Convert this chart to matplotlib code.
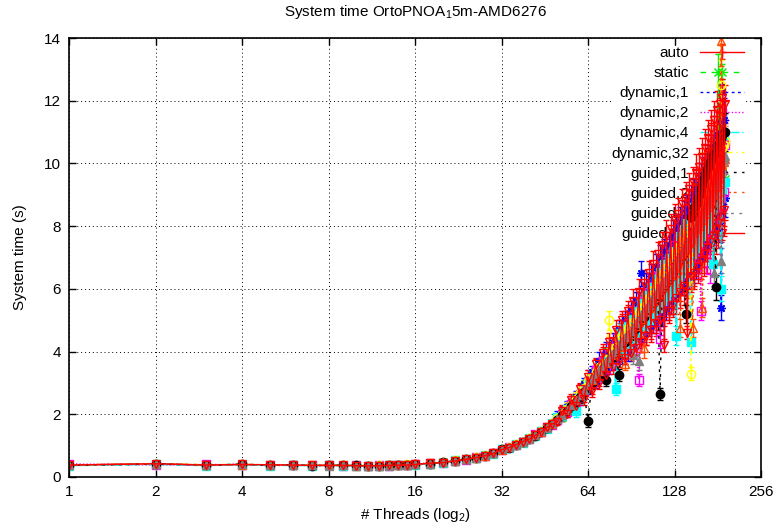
import matplotlib
matplotlib.use("Agg")
from matplotlib import pyplot as plt

plt.rcParams['font.family'] = ['Liberation Sans', 'DejaVu Sans']
plt.rcParams['mathtext.fontset'] = 'custom'
plt.rcParams['mathtext.rm'] = 'Liberation Sans'
plt.rcParams['mathtext.it'] = 'Liberation Sans:italic'

# thread counts: every count up to 16, then every second one up to 192
threads = list(range(1, 17)) + list(range(18, 193, 2))
x_ticks = [1, 2, 4, 8, 16, 32, 64, 128, 256]

schedules = ["auto", "static", "dynamic,1", "dynamic,2", "dynamic,4",
             "dynamic,32", "guided,1", "guided,2", "guided,4", "guided,32"]

# mean system time (s) per thread count
sys_auto = [
    0.38, 0.43, 0.38, 0.40, 0.38, 0.37, 0.37, 0.38, 0.37, 0.36, 0.35, 0.36, 0.37, 0.38, 0.39, 0.41,
    0.44, 0.47, 0.52, 0.57, 0.61, 0.69, 0.77, 0.87, 0.96, 1.05, 1.10, 1.24, 1.35, 1.43, 1.60, 1.72,
    1.80, 2.05, 2.08, 2.38, 2.35, 2.75, 2.60, 3.20, 2.85, 3.55, 3.10, 3.85, 3.35, 4.15, 3.60, 4.45,
    3.70, 4.90, 3.80, 5.20, 3.90, 5.40, 4.10, 5.70, 4.30, 5.90, 4.50, 6.20, 4.60, 6.40, 4.80, 6.70,
    5.00, 7.00, 5.10, 7.20, 5.20, 7.50, 5.40, 7.80, 5.60, 8.00, 5.80, 8.20, 5.90, 8.50, 6.10, 8.70,
    6.30, 9.00, 6.40, 9.30, 6.60, 9.50, 6.70, 9.80, 6.90, 10.1, 7.00, 10.4, 7.20, 10.7, 7.40, 10.9,
    7.60, 11.2, 7.80, 11.5, 8.00, 11.7, 8.20, 11.4]
sys_static = [
    0.37, 0.41, 0.39, 0.40, 0.37, 0.38, 0.38, 0.36, 0.37, 0.37, 0.36, 0.35, 0.36, 0.38, 0.38, 0.40,
    0.42, 0.48, 0.50, 0.55, 0.63, 0.67, 0.75, 0.89, 0.94, 1.02, 1.14, 1.21, 1.31, 1.47, 1.55, 1.69,
    1.86, 1.92, 2.18, 2.22, 2.52, 2.55, 2.88, 2.90, 3.25, 3.20, 3.55, 3.45, 3.80, 3.70, 4.05, 3.95,
    4.50, 4.05, 4.75, 4.20, 4.95, 4.40, 5.20, 4.65, 5.45, 4.90, 5.75, 5.10, 5.90, 5.30, 6.20, 5.50,
    6.40, 5.60, 6.60, 5.80, 6.80, 6.10, 7.00, 6.30, 7.25, 6.50, 7.50, 6.70, 7.70, 6.90, 7.90, 7.10,
    8.10, 7.20, 8.30, 7.40, 8.50, 7.60, 8.70, 7.80, 8.90, 8.00, 9.10, 8.20, 9.30, 8.40, 9.50, 8.60,
    9.90, 8.80, 12.9, 9.10, 10.5, 9.30, 10.8, 9.50]
sys_dyn1 = [
    0.38, 0.42, 0.37, 0.41, 0.38, 0.39, 0.37, 0.37, 0.38, 0.36, 0.36, 0.36, 0.38, 0.37, 0.39, 0.40,
    0.43, 0.46, 0.51, 0.57, 0.62, 0.68, 0.78, 0.87, 0.96, 1.04, 1.11, 1.25, 1.32, 1.46, 1.58, 1.71,
    1.90, 1.95, 2.22, 2.20, 2.55, 2.50, 2.95, 2.85, 3.35, 3.05, 3.70, 3.30, 4.00, 3.50, 4.30, 3.75,
    4.70, 3.90, 5.00, 4.00, 5.30, 4.20, 5.60, 4.40, 6.50, 4.60, 6.10, 4.80, 6.40, 4.90, 6.70, 5.10,
    7.00, 5.20, 7.20, 5.40, 7.40, 5.60, 7.70, 5.80, 7.90, 6.00, 8.10, 6.20, 8.30, 6.30, 8.50, 6.50,
    8.80, 6.70, 9.00, 6.80, 9.20, 7.00, 9.40, 7.20, 9.60, 7.40, 9.80, 7.60, 10.0, 7.80, 10.3, 8.00,
    10.6, 8.20, 10.9, 8.40, 5.40, 8.70, 11.4, 8.90]
sys_dyn2 = [
    0.42, 0.38, 0.40, 0.39, 0.37, 0.38, 0.37, 0.38, 0.36, 0.37, 0.35, 0.37, 0.36, 0.39, 0.38, 0.41,
    0.45, 0.46, 0.52, 0.55, 0.64, 0.66, 0.77, 0.86, 0.97, 1.01, 1.13, 1.20, 1.36, 1.42, 1.59, 1.66,
    1.82, 2.02, 2.08, 2.32, 2.38, 2.66, 2.72, 3.02, 3.00, 3.40, 3.20, 3.70, 3.45, 3.95, 3.70, 4.25,
    3.95, 4.60, 4.05, 4.90, 4.20, 5.15, 4.40, 3.10, 4.65, 5.60, 4.90, 5.90, 5.00, 6.10, 5.20, 6.40,
    4.40, 6.70, 5.60, 6.90, 5.80, 7.10, 6.00, 7.40, 6.10, 7.60, 6.30, 7.80, 6.50, 8.00, 6.70, 8.20,
    6.90, 8.40, 7.00, 8.70, 7.20, 8.90, 5.30, 9.10, 7.60, 9.30, 7.80, 9.60, 6.60, 9.80, 8.20, 10.0,
    8.40, 10.3, 8.60, 10.5, 8.90, 10.7, 9.10, 10.6]
sys_dyn4 = [
    0.36, 0.40, 0.36, 0.39, 0.36, 0.37, 0.36, 0.38, 0.36, 0.35, 0.36, 0.35, 0.37, 0.37, 0.38, 0.39,
    0.42, 0.45, 0.53, 0.58, 0.60, 0.70, 0.74, 0.90, 0.93, 1.06, 1.09, 1.23, 1.30, 1.48, 1.54, 1.73,
    1.90, 1.94, 2.18, 2.22, 2.10, 2.56, 2.82, 2.98, 3.15, 3.20, 3.45, 3.50, 3.75, 3.70, 4.00, 2.80,
    4.60, 4.00, 4.80, 4.20, 5.05, 4.40, 5.30, 4.60, 5.55, 4.80, 5.80, 5.00, 6.05, 5.20, 6.30, 5.40,
    6.55, 5.60, 6.80, 5.75, 7.00, 5.90, 7.20, 6.10, 4.50, 6.30, 7.70, 6.50, 7.90, 6.70, 8.10, 6.90,
    4.30, 7.10, 8.60, 7.30, 8.80, 7.50, 9.00, 7.70, 9.20, 7.90, 9.40, 8.10, 9.60, 8.30, 6.80, 8.50,
    10.2, 8.70, 10.5, 8.90, 6.00, 9.20, 10.9, 9.40]
sys_dyn32 = [
    0.39, 0.42, 0.39, 0.41, 0.39, 0.38, 0.38, 0.37, 0.38, 0.37, 0.36, 0.37, 0.38, 0.38, 0.40, 0.41,
    0.44, 0.48, 0.53, 0.56, 0.63, 0.69, 0.76, 0.89, 0.96, 1.04, 1.13, 1.24, 1.34, 1.46, 1.60, 1.71,
    1.87, 2.00, 2.18, 2.30, 2.50, 2.68, 2.85, 3.05, 3.20, 3.35, 3.50, 3.62, 3.75, 5.00, 4.00, 4.15,
    4.40, 4.50, 4.60, 4.75, 4.85, 4.95, 5.10, 5.25, 5.35, 5.45, 5.60, 5.70, 5.80, 5.95, 6.05, 6.20,
    6.30, 6.40, 6.55, 6.65, 6.75, 6.85, 6.95, 7.10, 7.20, 7.30, 7.40, 7.50, 7.60, 7.70, 7.80, 7.95,
    3.30, 8.15, 8.25, 8.35, 8.45, 8.55, 8.65, 8.75, 8.85, 8.95, 9.05, 9.15, 9.30, 9.40, 9.50, 9.60,
    9.75, 9.90, 10.1, 10.2, 12.5, 10.5, 10.6, 10.7]
sys_gui1 = [
    0.37, 0.41, 0.38, 0.41, 0.37, 0.39, 0.36, 0.37, 0.37, 0.37, 0.35, 0.36, 0.37, 0.38, 0.38, 0.40,
    0.43, 0.47, 0.50, 0.57, 0.61, 0.67, 0.77, 0.90, 0.94, 1.03, 1.12, 1.20, 1.32, 1.44, 1.55, 1.68,
    1.83, 1.97, 2.12, 2.26, 2.40, 2.55, 2.70, 1.80, 3.00, 3.15, 3.30, 3.45, 3.10, 3.70, 3.82, 3.95,
    3.25, 4.20, 4.30, 4.40, 4.50, 4.60, 4.75, 4.90, 5.00, 5.10, 5.25, 5.35, 5.45, 5.55, 5.70, 5.80,
    2.65, 6.00, 6.10, 6.20, 6.30, 6.40, 6.50, 6.65, 6.75, 6.85, 6.95, 7.05, 7.15, 5.20, 7.35, 7.45,
    8.30, 8.40, 8.60, 8.70, 8.90, 9.00, 9.20, 9.30, 9.50, 9.60, 9.80, 9.90, 10.0, 10.1, 10.2, 10.3,
    6.05, 10.5, 10.6, 10.7, 10.8, 10.9, 11.0, 11.0]
sys_gui2 = [
    0.38, 0.43, 0.39, 0.39, 0.39, 0.37, 0.38, 0.37, 0.37, 0.36, 0.36, 0.35, 0.37, 0.37, 0.39, 0.40,
    0.43, 0.48, 0.51, 0.57, 0.62, 0.67, 0.75, 0.87, 0.95, 1.04, 1.11, 1.23, 1.34, 1.44, 1.58, 1.70,
    1.85, 1.99, 2.14, 2.29, 2.45, 2.60, 2.75, 2.92, 3.08, 3.22, 3.38, 3.50, 3.62, 3.75, 3.88, 4.02,
    4.15, 4.25, 3.60, 4.45, 4.55, 4.65, 4.80, 4.95, 5.05, 4.10, 5.30, 5.40, 5.50, 5.60, 5.75, 5.85,
    5.95, 6.05, 6.15, 6.25, 6.35, 6.45, 6.55, 6.70, 6.80, 6.90, 4.75, 7.10, 7.20, 7.30, 7.40, 7.50,
    7.60, 4.75, 7.80, 7.90, 8.00, 8.10, 8.20, 5.40, 8.40, 8.50, 8.60, 8.70, 8.80, 8.90, 9.00, 9.10,
    9.25, 9.40, 9.55, 9.70, 13.9, 9.95, 10.05, 10.15]
sys_gui4 = [
    0.37, 0.42, 0.37, 0.40, 0.38, 0.38, 0.37, 0.36, 0.38, 0.36, 0.35, 0.36, 0.36, 0.38, 0.39, 0.40,
    0.42, 0.47, 0.52, 0.56, 0.61, 0.69, 0.76, 0.88, 0.95, 1.02, 1.12, 1.22, 1.33, 1.46, 1.56, 1.71,
    1.84, 1.99, 2.13, 2.29, 2.44, 2.62, 2.78, 2.97, 3.12, 3.28, 3.42, 3.55, 3.68, 3.80, 3.93, 4.07,
    4.22, 4.33, 4.45, 4.55, 4.67, 3.90, 4.90, 3.70, 5.15, 5.25, 5.40, 5.50, 5.60, 5.72, 5.85, 5.95,
    6.05, 6.15, 6.25, 6.35, 6.45, 6.55, 6.65, 6.80, 6.90, 7.00, 7.10, 7.20, 7.30, 7.40, 7.50, 7.60,
    7.70, 7.80, 7.90, 8.00, 8.10, 8.20, 8.30, 8.40, 8.50, 8.60, 8.70, 8.80, 8.90, 9.00, 9.10, 6.50,
    9.35, 9.50, 9.65, 9.80, 6.90, 10.05, 10.15, 10.25]
sys_gui32 = [
    0.38, 0.42, 0.38, 0.40, 0.39, 0.38, 0.37, 0.37, 0.37, 0.36, 0.36, 0.36, 0.37, 0.38, 0.38, 0.40,
    0.44, 0.46, 0.51, 0.56, 0.62, 0.68, 0.75, 0.87, 0.94, 1.03, 1.13, 1.21, 1.33, 1.44, 1.58, 1.69,
    1.75, 2.10, 2.00, 2.45, 2.25, 2.80, 2.50, 3.20, 2.75, 3.60, 3.00, 3.95, 3.25, 4.30, 3.50, 4.70,
    3.70, 5.00, 3.80, 5.30, 3.95, 5.60, 4.10, 5.90, 4.30, 6.20, 4.50, 6.50, 4.70, 6.80, 4.90, 7.10,
    5.00, 7.40, 4.20, 7.70, 5.30, 7.90, 5.50, 8.20, 5.70, 8.40, 5.90, 8.70, 6.10, 8.90, 4.60, 9.20,
    6.40, 9.40, 6.50, 9.70, 6.70, 9.90, 6.90, 10.2, 7.10, 10.5, 7.30, 10.8, 7.50, 11.1, 7.70, 11.4,
    7.90, 11.7, 8.10, 11.9, 8.30, 12.1, 8.50, 11.9]

# standard deviation (s) per thread count
err_auto = [
    0.02, 0.03, 0.02, 0.02, 0.02, 0.02, 0.02, 0.02, 0.02, 0.02, 0.02, 0.02, 0.02, 0.02, 0.02, 0.03,
    0.03, 0.03, 0.04, 0.04, 0.05, 0.05, 0.06, 0.06, 0.07, 0.07, 0.08, 0.09, 0.1, 0.1, 0.1, 0.1,
    0.1, 0.2, 0.1, 0.2, 0.2, 0.2, 0.2, 0.2, 0.2, 0.2, 0.2, 0.3, 0.2, 0.3, 0.2, 0.3,
    0.2, 0.3, 0.2, 0.3, 0.2, 0.3, 0.2, 0.3, 0.3, 0.3, 0.3, 0.3, 0.3, 0.4, 0.3, 0.4,
    0.3, 0.4, 0.3, 0.4, 0.3, 0.4, 0.3, 0.4, 0.4, 0.4, 0.4, 0.4, 0.4, 0.5, 0.4, 0.5,
    0.4, 0.5, 0.4, 0.5, 0.4, 0.5, 0.4, 0.5, 0.5, 0.5, 0.5, 0.5, 0.5, 0.6, 0.5, 0.6,
    0.5, 0.6, 0.5, 0.6, 0.5, 0.6, 0.5, 0.6]
err_static = [
    0.02, 0.02, 0.02, 0.03, 0.02, 0.02, 0.02, 0.02, 0.02, 0.02, 0.02, 0.02, 0.02, 0.02, 0.03, 0.02,
    0.03, 0.03, 0.03, 0.04, 0.04, 0.05, 0.05, 0.06, 0.06, 0.07, 0.08, 0.08, 0.09, 0.1, 0.1, 0.1,
    0.1, 0.1, 0.2, 0.1, 0.2, 0.2, 0.2, 0.2, 0.2, 0.2, 0.2, 0.2, 0.3, 0.2, 0.3, 0.2,
    0.3, 0.2, 0.3, 0.3, 0.3, 0.3, 0.3, 0.3, 0.3, 0.3, 0.4, 0.3, 0.4, 0.3, 0.4, 0.3,
    0.4, 0.3, 0.4, 0.4, 0.4, 0.4, 0.4, 0.4, 0.4, 0.4, 0.5, 0.4, 0.5, 0.4, 0.5, 0.4,
    0.5, 0.4, 0.5, 0.5, 0.5, 0.5, 0.5, 0.5, 0.5, 0.5, 0.6, 0.5, 0.6, 0.5, 0.6, 0.5,
    0.6, 0.5, 0.6, 0.6, 0.6, 0.6, 0.6, 0.6]
err_dyn1 = [
    0.02, 0.02, 0.03, 0.02, 0.02, 0.02, 0.02, 0.02, 0.02, 0.02, 0.02, 0.02, 0.02, 0.03, 0.02, 0.02,
    0.03, 0.04, 0.04, 0.04, 0.05, 0.05, 0.06, 0.07, 0.07, 0.08, 0.08, 0.09, 0.1, 0.1, 0.1, 0.1,
    0.2, 0.1, 0.2, 0.2, 0.2, 0.2, 0.2, 0.2, 0.2, 0.2, 0.3, 0.2, 0.3, 0.2, 0.3, 0.3,
    0.3, 0.3, 0.3, 0.3, 0.3, 0.3, 0.3, 0.3, 0.4, 0.3, 0.4, 0.3, 0.4, 0.3, 0.4, 0.4,
    0.4, 0.4, 0.4, 0.4, 0.4, 0.4, 0.5, 0.4, 0.5, 0.4, 0.5, 0.4, 0.5, 0.4, 0.5, 0.5,
    0.5, 0.5, 0.5, 0.5, 0.5, 0.5, 0.6, 0.5, 0.6, 0.5, 0.6, 0.5, 0.6, 0.5, 0.6, 0.6,
    0.6, 0.6, 0.6, 0.6, 0.4, 0.6, 0.7, 0.6]
err_dyn2 = [
    0.03, 0.02, 0.02, 0.02, 0.02, 0.02, 0.02, 0.02, 0.02, 0.02, 0.02, 0.02, 0.02, 0.02, 0.02, 0.03,
    0.03, 0.03, 0.04, 0.04, 0.05, 0.05, 0.06, 0.06, 0.07, 0.07, 0.08, 0.08, 0.1, 0.1, 0.1, 0.1,
    0.1, 0.2, 0.1, 0.2, 0.2, 0.2, 0.2, 0.2, 0.2, 0.2, 0.2, 0.3, 0.2, 0.3, 0.2, 0.3,
    0.2, 0.3, 0.3, 0.3, 0.3, 0.3, 0.3, 0.2, 0.3, 0.3, 0.3, 0.4, 0.3, 0.4, 0.3, 0.4,
    0.3, 0.4, 0.4, 0.4, 0.4, 0.4, 0.4, 0.4, 0.4, 0.4, 0.4, 0.5, 0.4, 0.5, 0.4, 0.5,
    0.5, 0.5, 0.5, 0.5, 0.5, 0.5, 0.3, 0.5, 0.5, 0.5, 0.5, 0.6, 0.4, 0.6, 0.5, 0.6,
    0.6, 0.6, 0.6, 0.6, 0.6, 0.6, 0.6, 0.6]
err_dyn4 = [
    0.02, 0.02, 0.02, 0.02, 0.02, 0.02, 0.02, 0.03, 0.02, 0.02, 0.02, 0.02, 0.02, 0.02, 0.02, 0.02,
    0.03, 0.03, 0.04, 0.04, 0.04, 0.05, 0.05, 0.06, 0.07, 0.07, 0.08, 0.09, 0.09, 0.1, 0.1, 0.1,
    0.1, 0.1, 0.2, 0.2, 0.2, 0.2, 0.2, 0.2, 0.2, 0.2, 0.2, 0.2, 0.3, 0.2, 0.3, 0.2,
    0.3, 0.3, 0.3, 0.3, 0.3, 0.3, 0.3, 0.3, 0.3, 0.3, 0.4, 0.3, 0.4, 0.3, 0.4, 0.4,
    0.4, 0.4, 0.4, 0.4, 0.4, 0.4, 0.4, 0.4, 0.3, 0.4, 0.5, 0.4, 0.5, 0.4, 0.5, 0.4,
    0.3, 0.5, 0.5, 0.5, 0.5, 0.5, 0.5, 0.5, 0.5, 0.5, 0.6, 0.5, 0.6, 0.5, 0.4, 0.5,
    0.6, 0.5, 0.6, 0.6, 0.4, 0.6, 0.6, 0.6]
err_dyn32 = [
    0.02, 0.02, 0.02, 0.02, 0.03, 0.02, 0.02, 0.02, 0.02, 0.02, 0.02, 0.02, 0.02, 0.02, 0.02, 0.02,
    0.03, 0.03, 0.03, 0.04, 0.05, 0.05, 0.06, 0.06, 0.07, 0.08, 0.08, 0.09, 0.1, 0.1, 0.1, 0.1,
    0.1, 0.2, 0.2, 0.2, 0.2, 0.2, 0.2, 0.2, 0.2, 0.2, 0.2, 0.2, 0.3, 0.3, 0.3, 0.3,
    0.3, 0.3, 0.3, 0.3, 0.3, 0.3, 0.3, 0.3, 0.3, 0.4, 0.4, 0.4, 0.4, 0.4, 0.4, 0.4,
    0.4, 0.4, 0.4, 0.4, 0.4, 0.4, 0.4, 0.5, 0.5, 0.5, 0.5, 0.5, 0.5, 0.5, 0.5, 0.5,
    0.2, 0.5, 0.5, 0.5, 0.5, 0.5, 0.5, 0.5, 0.5, 0.6, 0.6, 0.6, 0.6, 0.6, 0.6, 0.6,
    0.6, 0.6, 0.6, 0.6, 0.8, 0.6, 0.6, 0.6]
err_gui1 = [
    0.02, 0.02, 0.02, 0.02, 0.02, 0.03, 0.02, 0.02, 0.02, 0.02, 0.02, 0.02, 0.02, 0.02, 0.02, 0.02,
    0.03, 0.03, 0.04, 0.04, 0.04, 0.05, 0.06, 0.06, 0.07, 0.07, 0.08, 0.08, 0.09, 0.1, 0.1, 0.1,
    0.1, 0.2, 0.2, 0.2, 0.2, 0.2, 0.2, 0.2, 0.2, 0.2, 0.2, 0.2, 0.2, 0.3, 0.3, 0.3,
    0.2, 0.3, 0.3, 0.3, 0.3, 0.3, 0.3, 0.3, 0.3, 0.3, 0.3, 0.4, 0.4, 0.4, 0.4, 0.4,
    0.2, 0.4, 0.4, 0.4, 0.4, 0.4, 0.4, 0.4, 0.4, 0.5, 0.5, 0.5, 0.5, 0.3, 0.5, 0.5,
    0.5, 0.5, 0.5, 0.5, 0.5, 0.5, 0.5, 0.5, 0.5, 0.5, 0.5, 0.6, 0.6, 0.6, 0.6, 0.6,
    0.4, 0.6, 0.6, 0.6, 0.6, 0.6, 0.6, 0.6]
err_gui2 = [
    0.02, 0.03, 0.02, 0.02, 0.02, 0.02, 0.02, 0.02, 0.02, 0.02, 0.02, 0.02, 0.02, 0.02, 0.02, 0.02,
    0.03, 0.03, 0.04, 0.04, 0.05, 0.05, 0.05, 0.06, 0.07, 0.07, 0.08, 0.09, 0.09, 0.1, 0.1, 0.1,
    0.1, 0.2, 0.2, 0.2, 0.2, 0.2, 0.2, 0.2, 0.2, 0.2, 0.2, 0.2, 0.2, 0.3, 0.3, 0.3,
    0.3, 0.3, 0.2, 0.3, 0.3, 0.3, 0.3, 0.3, 0.3, 0.3, 0.3, 0.4, 0.4, 0.4, 0.4, 0.4,
    0.4, 0.4, 0.4, 0.4, 0.4, 0.4, 0.4, 0.4, 0.4, 0.5, 0.3, 0.5, 0.5, 0.5, 0.5, 0.5,
    0.5, 0.3, 0.5, 0.5, 0.5, 0.5, 0.5, 0.3, 0.5, 0.6, 0.6, 0.6, 0.6, 0.6, 0.6, 0.6,
    0.6, 0.6, 0.6, 0.6, 0.8, 0.6, 0.6, 0.6]
err_gui4 = [
    0.02, 0.02, 0.02, 0.02, 0.02, 0.02, 0.02, 0.02, 0.03, 0.02, 0.02, 0.02, 0.02, 0.02, 0.02, 0.02,
    0.03, 0.03, 0.04, 0.04, 0.04, 0.05, 0.06, 0.06, 0.07, 0.07, 0.08, 0.08, 0.09, 0.1, 0.1, 0.1,
    0.1, 0.2, 0.2, 0.2, 0.2, 0.2, 0.2, 0.2, 0.2, 0.2, 0.2, 0.2, 0.2, 0.2, 0.3, 0.3,
    0.3, 0.3, 0.3, 0.3, 0.3, 0.3, 0.3, 0.3, 0.3, 0.3, 0.3, 0.4, 0.4, 0.4, 0.4, 0.4,
    0.4, 0.4, 0.4, 0.4, 0.4, 0.4, 0.4, 0.4, 0.4, 0.5, 0.5, 0.5, 0.5, 0.5, 0.5, 0.5,
    0.5, 0.5, 0.5, 0.5, 0.5, 0.5, 0.5, 0.5, 0.5, 0.6, 0.6, 0.6, 0.6, 0.6, 0.6, 0.4,
    0.6, 0.6, 0.6, 0.6, 0.4, 0.6, 0.6, 0.6]
err_gui32 = [
    0.02, 0.02, 0.02, 0.02, 0.02, 0.02, 0.02, 0.02, 0.02, 0.02, 0.02, 0.03, 0.02, 0.02, 0.02, 0.02,
    0.03, 0.03, 0.04, 0.04, 0.05, 0.05, 0.06, 0.06, 0.07, 0.07, 0.08, 0.09, 0.1, 0.1, 0.1, 0.1,
    0.1, 0.2, 0.1, 0.2, 0.2, 0.2, 0.2, 0.2, 0.2, 0.2, 0.2, 0.3, 0.2, 0.3, 0.2, 0.3,
    0.2, 0.3, 0.2, 0.3, 0.2, 0.4, 0.2, 0.4, 0.3, 0.4, 0.3, 0.4, 0.3, 0.4, 0.3, 0.4,
    0.3, 0.4, 0.2, 0.5, 0.3, 0.5, 0.3, 0.5, 0.3, 0.5, 0.3, 0.5, 0.3, 0.5, 0.2, 0.5,
    0.4, 0.5, 0.4, 0.6, 0.4, 0.6, 0.4, 0.6, 0.4, 0.6, 0.4, 0.6, 0.4, 0.6, 0.4, 0.6,
    0.4, 0.6, 0.4, 0.6, 0.5, 0.6, 0.5, 0.6]

means = [sys_auto, sys_static, sys_dyn1, sys_dyn2, sys_dyn4,
         sys_dyn32, sys_gui1, sys_gui2, sys_gui4, sys_gui32]
errors = [err_auto, err_static, err_dyn1, err_dyn2, err_dyn4,
          err_dyn32, err_gui1, err_gui2, err_gui4, err_gui32]

# gnuplot-like line types
colors = ['#ff0000', '#00ee00', '#0000ff', '#ff00ff', '#00ffff',
          '#ffff00', '#000000', '#ff4d00', '#808080', '#ff0000']
markers = ['+', 'x', (8, 2, 0), 's', 's', 'o', 'o', '^', '^', 'v']
filled = [True, True, True, False, True, False, True, False, True, False]
linestyles = ['-', (0, (4, 4)), (0, (2, 2.5)), (0, (1, 1.5)), (0, (6, 2, 1, 2)),
              (0, (3, 3, 1, 3)), (0, (2, 4)), (0, (2, 2, 2, 4)),
              (0, (2, 2, 2, 2, 2, 4)), '-']

fig = plt.figure(figsize=(7.75, 5.26), dpi=100)
ax = fig.add_axes([69 / 775, 49 / 526, 692 / 775, 439 / 526])

for name, y, e, c, m, f, ls in zip(schedules, means, errors, colors,
                                   markers, filled, linestyles):
    ax.errorbar(threads, y, yerr=e, color=c, ls=ls, lw=1,
                marker=m, ms=6, mec=c, mfc=c if f else 'none', mew=1,
                elinewidth=1, capsize=2, label=name)

ax.set_xscale('log', base=2)
ax.set_xlim(1, 256)
ax.set_ylim(0, 14)
ax.set_xticks(x_ticks)
ax.set_xticklabels([str(t) for t in x_ticks])
ax.set_yticks(range(0, 15, 2))
ax.minorticks_off()
ax.tick_params(direction='in', top=True, right=True, length=5, width=1,
               labelsize=11, pad=6)
ax.grid(True, ls=(0, (1, 3)), color='black', lw=0.7)
for s in ax.spines.values():
    s.set_linewidth(1.2)

ax.set_title("System time OrtoPNOA$_1$5m-AMD6276", fontsize=11, pad=16)
ax.set_xlabel("# Threads (log$_2$)", fontsize=11, labelpad=5)
ax.set_ylabel("System time (s)", fontsize=11, labelpad=12)

leg = ax.legend(loc='upper right', bbox_to_anchor=(744 / 775, 1 - 46 / 526),
                bbox_transform=fig.transFigure, markerfirst=False,
                frameon=True, fancybox=False, edgecolor='none', framealpha=1,
                borderpad=0, borderaxespad=0, handlelength=2.9,
                handletextpad=0.7, labelspacing=0.4, fontsize=11)
leg.set_zorder(1.8)

fig.savefig("out.png", dpi=100)
